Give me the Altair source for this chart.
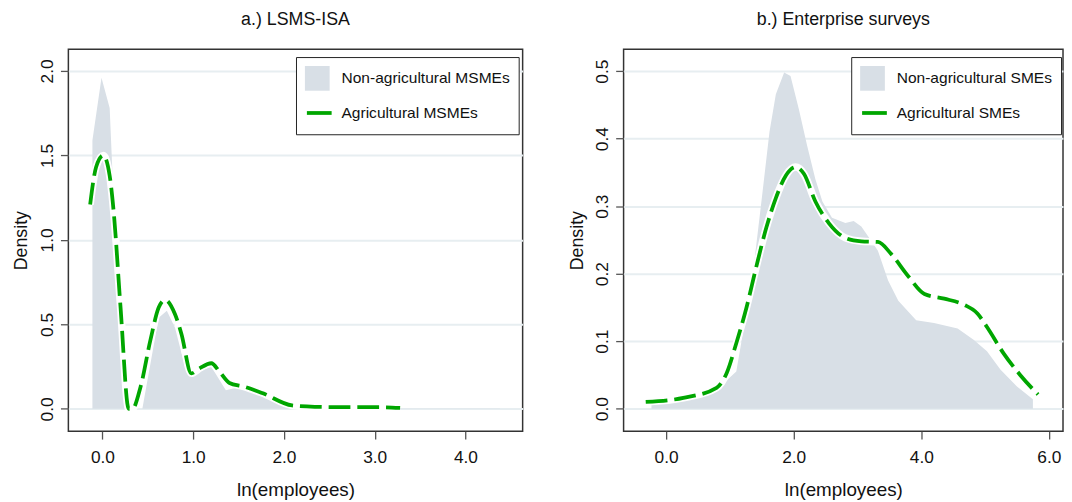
import altair as alt
import pandas as pd

# ---------------- Panel a.) LSMS-ISA ----------------
a_nonag_x = [-0.11, -0.01, 0.08, 0.127, 0.2, 0.27, 0.44, 0.53, 0.62, 0.71, 0.80, 0.91, 1.0, 1.1,
             1.2, 1.36, 1.51, 1.62, 1.73, 1.98, 2.2, 2.6, 3.0, 3.5, 4.0, 4.38]
a_nonag_d = [1.59, 1.96, 1.78, 1.19, 0.55, 0.0, 0.0, 0.27, 0.54, 0.58, 0.48, 0.25, 0.21, 0.23,
             0.25, 0.11, 0.13, 0.11, 0.084, 0.045, 0.006, 0.003, 0.002, 0.002, 0.002, 0.002]
a_ag_x = [-0.135, -0.07, 0.01, 0.08, 0.127, 0.2, 0.29, 0.33, 0.42, 0.53, 0.62, 0.69, 0.80, 0.87,
          0.98, 1.07, 1.2, 1.29, 1.40, 1.55, 1.76, 2.09, 2.34, 2.7, 3.06, 3.28]
a_ag_d = [1.21, 1.43, 1.50, 1.38, 1.15, 0.60, 0.0, 0.0, 0.13, 0.41, 0.60, 0.645, 0.56, 0.445,
          0.21, 0.24, 0.27, 0.22, 0.153, 0.133, 0.094, 0.02, 0.012, 0.01, 0.01, 0.006]
a_labels = ["Non-agricultural MSMEs", "Agricultural MSMEs"]
a_xticks = [0, 1, 2, 3, 4]
a_yticks = [0, 0.5, 1.0, 1.5, 2.0]

# ---------------- Panel b.) Enterprise surveys ----------------
b_nonag_x = [-0.23, 0.145, 0.79, 1.1, 1.2, 1.36, 1.51, 1.62, 1.72, 1.85, 1.95, 2.08, 2.21, 2.34,
             2.45, 2.6, 2.81, 2.94, 3.06, 3.22, 3.32, 3.48, 3.64, 3.92, 4.2, 4.57, 4.82, 5.03,
             5.24, 5.50, 5.75]
b_nonag_d = [0.006, 0.009, 0.028, 0.055, 0.11, 0.2, 0.32, 0.41, 0.466, 0.498, 0.493, 0.444, 0.39,
             0.34, 0.307, 0.283, 0.275, 0.278, 0.27, 0.248, 0.234, 0.19, 0.16, 0.131, 0.127,
             0.119, 0.102, 0.085, 0.058, 0.033, 0.014]
b_ag_x = [-0.32, 0.27, 0.79, 0.95, 1.1, 1.26, 1.41, 1.57, 1.72, 1.88, 2.03, 2.16, 2.34, 2.55,
          2.81, 3.06, 3.32, 3.53, 3.79, 4.05, 4.36, 4.67, 4.88, 5.03, 5.29, 5.55, 5.83]
b_ag_d = [0.01, 0.016, 0.031, 0.053, 0.097, 0.15, 0.209, 0.268, 0.312, 0.346, 0.358, 0.348,
          0.307, 0.275, 0.253, 0.248, 0.247, 0.229, 0.197, 0.17, 0.163, 0.154, 0.141, 0.121,
          0.082, 0.05, 0.021]
b_labels = ["Non-agricultural SMEs", "Agricultural SMEs"]
b_xticks = [0, 2, 4, 6]
b_yticks = [0, 0.1, 0.2, 0.3, 0.4, 0.5]

GRAY = "#d8dfe6"
GREEN = "#00a600"
FONT = "Liberation Sans"


def panel(title, gx, gd, lx, ld, labels, xdom, ydom, xticks, yticks, w, h):
    df_g = pd.DataFrame({"x": gx, "d": gd, "grp": labels[0]})
    df_l = pd.DataFrame({"x": lx, "d": ld, "lin": labels[1]})
    X = alt.X("x:Q", scale=alt.Scale(domain=xdom, nice=False, zero=False),
              axis=alt.Axis(values=xticks, format=".1f", title="ln(employees)", grid=False,
                            domain=False, tickSize=8, tickColor="#555", tickWidth=1.3,
                            labelFontSize=17.5, labelPadding=10, labelColor="#111",
                            titleFontSize=19, titleFontWeight="normal", titlePadding=14,
                            titleColor="#111"))
    Y = alt.Y("d:Q", scale=alt.Scale(domain=ydom, nice=False, zero=False),
              axis=alt.Axis(values=yticks, format=".1f", title="Density", grid=True,
                            gridColor="#e7eef1", gridWidth=2, domain=False, tickSize=8,
                            tickColor="#555", tickWidth=1.3, labelFontSize=17.5,
                            labelAngle=270, labelAlign="center", labelBaseline="bottom",
                            labelPadding=4, labelColor="#111", titleFontSize=18,
                            titleFontWeight="normal", titlePadding=8, titleColor="#111"))
    area = alt.Chart(df_g).mark_area(interpolate="linear").encode(
        x=X, y=Y, y2=alt.datum(0),
        fill=alt.Fill("grp:N",
                      scale=alt.Scale(domain=labels, range=[GRAY, "transparent"]),
                      legend=alt.Legend(title=None, orient="none", legendX=230, legendY=8,
                                        strokeColor="#222", fillColor="white", padding=9,
                                        rowPadding=10, symbolType="square", symbolSize=625,
                                        symbolStrokeWidth=0, labelFontSize=15.7,
                                        labelFont=FONT, labelColor="#111", labelOffset=12,
                                        labelLimit=400)))
    halo = alt.Chart(df_l).mark_line(color="white", strokeWidth=7.5,
                                     interpolate="monotone").encode(x=X, y=Y)
    line = alt.Chart(df_l).mark_line(strokeWidth=3.8, strokeDash=[22, 7],
                                     interpolate="monotone").encode(
        x=X, y=Y,
        stroke=alt.Stroke("lin:N",
                          scale=alt.Scale(domain=["~", labels[1]],
                                          range=["transparent", GREEN]),
                          legend=alt.Legend(title=None, orient="none", legendX=230, legendY=8,
                                            padding=9, rowPadding=10, symbolType="stroke",
                                            symbolSize=625, symbolStrokeWidth=3.8,
                                            symbolDash=[100, 0], labelFontSize=15.7,
                                            labelExpr="''", zindex=1)))
    return alt.layer(area, halo, line).properties(
        width=w, height=h,
        title=alt.TitleParams(title, fontSize=18, fontWeight="normal", font=FONT,
                              color="#111", offset=20))


left = panel("a.) LSMS-ISA", a_nonag_x, a_nonag_d, a_ag_x, a_ag_d, a_labels,
             [-0.375, 4.63], [-0.132, 2.129], a_xticks, a_yticks, 459, 386)
right = panel("b.) Enterprise surveys", b_nonag_x, b_nonag_d, b_ag_x, b_ag_d, b_labels,
              [-0.667, 6.222], [-0.0333, 0.5327], b_xticks, b_yticks, 444, 386)

chart = alt.hconcat(left, right, spacing=44).resolve_scale(
    x="independent", y="independent", fill="independent", stroke="independent"
).resolve_legend(fill="independent", stroke="independent").properties(
    padding={"left": 4, "top": 0, "right": 0, "bottom": 0}
).configure(font=FONT).configure_view(stroke="#333", strokeWidth=1.5)

chart.save("out.html", embed_options={"renderer": "svg", "actions": False})
